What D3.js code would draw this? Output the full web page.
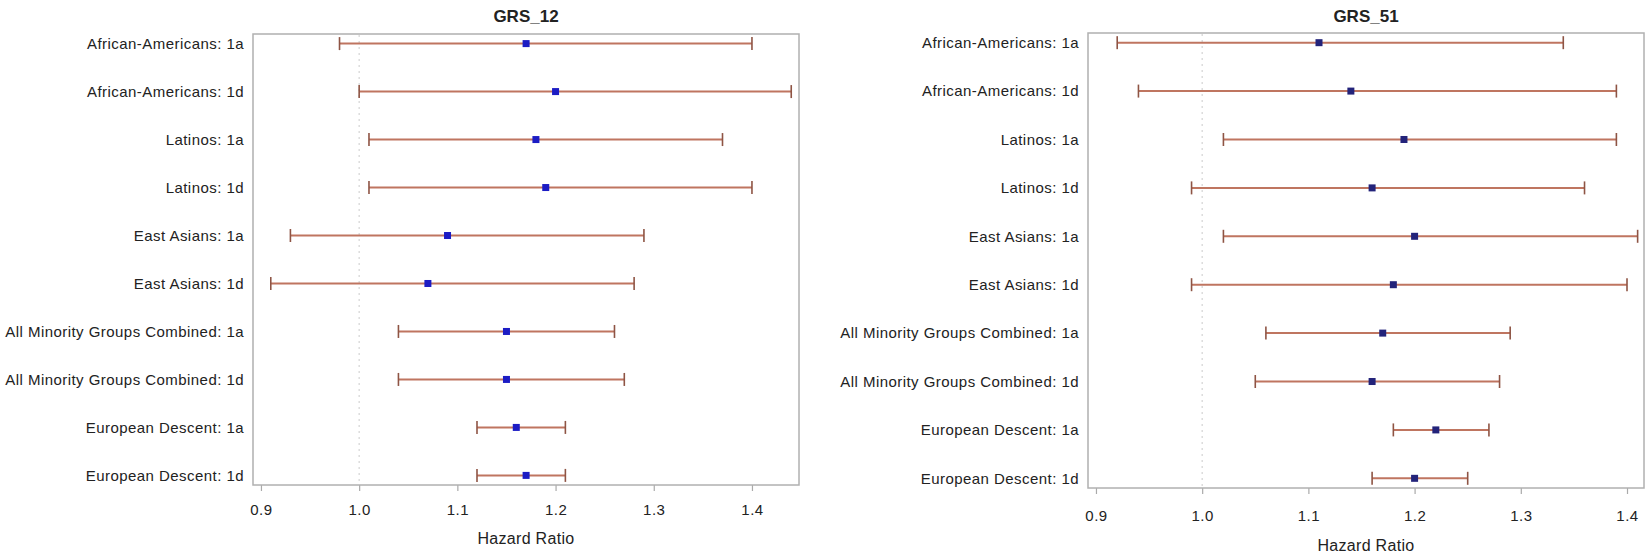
<!DOCTYPE html>
<html>
<head>
<meta charset="utf-8">
<script src="https://cdnjs.cloudflare.com/ajax/libs/d3/7.8.5/d3.min.js"></script>
<style>
  body { margin: 0; background: #fff; }
  text { font-family: "Liberation Sans", Arial, sans-serif; fill: #222; }
</style>
</head>
<body>
<div id="chart"></div>
<script>
// row labels (same for both panels)
var groups = [
  "African-Americans: 1a", "African-Americans: 1d",
  "Latinos: 1a", "Latinos: 1d",
  "East Asians: 1a", "East Asians: 1d",
  "All Minority Groups Combined: 1a", "All Minority Groups Combined: 1d",
  "European Descent: 1a", "European Descent: 1d"
];
var tickValues = [0.9, 1.0, 1.1, 1.2, 1.3, 1.4];

// GRS_12 hazard ratios and 95% CI
var grs12HR    = [1.17, 1.20, 1.18, 1.19, 1.09, 1.07, 1.15, 1.15, 1.16, 1.17];
var grs12Lower = [0.98, 1.00, 1.01, 1.01, 0.93, 0.91, 1.04, 1.04, 1.12, 1.12];
var grs12Upper = [1.40, 1.44, 1.37, 1.40, 1.29, 1.28, 1.26, 1.27, 1.21, 1.21];

// GRS_51 hazard ratios and 95% CI
var grs51HR    = [1.11, 1.14, 1.19, 1.16, 1.20, 1.18, 1.17, 1.16, 1.22, 1.20];
var grs51Lower = [0.92, 0.94, 1.02, 0.99, 1.02, 0.99, 1.06, 1.05, 1.18, 1.16];
var grs51Upper = [1.34, 1.39, 1.39, 1.36, 1.41, 1.40, 1.29, 1.28, 1.27, 1.25];

var svg = d3.select("#chart").append("svg")
  .attr("width", 1650)
  .attr("height", 554);

var panels = [
  { title: "GRS_12", hr: grs12HR, lo: grs12Lower, hi: grs12Upper,
    left: 253, right: 799, top: 34, bottom: 485, domain: [0.8919, 1.4479],
    marker: "#1c1cc4", tickY: 515, labelY: 544 },
  { title: "GRS_51", hr: grs51HR, lo: grs51Lower, hi: grs51Upper,
    left: 1088, right: 1644, top: 33, bottom: 488, domain: [0.8925, 1.416],
    marker: "#23237a", tickY: 521, labelY: 551 }
];

panels.forEach(function(p) {
  var x = d3.scaleLinear().domain(p.domain).range([p.left, p.right]);
  var y = d3.scalePoint().domain(groups).range([p.top, p.bottom]).padding(0.2);

  var g = svg.append("g");

  // title
  g.append("text")
    .attr("x", (p.left + p.right) / 2)
    .attr("y", 22)
    .attr("text-anchor", "middle")
    .style("font-size", "17px")
    .style("font-weight", "bold")
    .text(p.title);

  // reference line at 1.0
  g.append("line")
    .attr("x1", x(1)).attr("x2", x(1))
    .attr("y1", p.top + 1).attr("y2", p.bottom - 1)
    .attr("stroke", "#d4d4d4")
    .attr("stroke-width", 1.2)
    .attr("stroke-dasharray", "2,4");

  // x axis
  var axis = g.append("g")
    .attr("transform", "translate(0," + p.bottom + ")")
    .call(d3.axisBottom(x).tickValues(tickValues).tickFormat(d3.format(".1f"))
      .tickSize(6).tickSizeOuter(0));
  axis.select(".domain").remove();
  axis.selectAll(".tick line").attr("stroke", "#aaaaaa").attr("stroke-width", 1.2);
  axis.selectAll(".tick text")
    .attr("y", p.tickY - p.bottom)
    .attr("dy", 0)
    .style("font-size", "15px")
    .style("letter-spacing", "0.5px")
    .style("font-family", "'Liberation Sans', Arial, sans-serif")
    .attr("fill", "#222");

  g.append("text")
    .attr("x", (p.left + p.right) / 2)
    .attr("y", p.labelY)
    .attr("text-anchor", "middle")
    .style("font-size", "16px")
    .style("letter-spacing", "0.3px")
    .text("Hazard Ratio");

  // row labels
  var yAxis = g.append("g")
    .attr("transform", "translate(" + (p.left - 2) + ",0)")
    .call(d3.axisLeft(y).tickSize(0).tickPadding(7));
  yAxis.select(".domain").remove();
  yAxis.selectAll(".tick text")
    .style("font-size", "15px")
    .style("letter-spacing", "0.45px")
    .style("font-family", "'Liberation Sans', Arial, sans-serif")
    .attr("fill", "#222");

  var rows = groups.map(function(name, i) {
    return { name: name, hr: p.hr[i], lo: p.lo[i], hi: p.hi[i] };
  });

  // CI lines
  g.selectAll(".ci").data(rows).enter().append("line")
    .attr("class", "ci")
    .attr("x1", function(d) { return x(d.lo); })
    .attr("x2", function(d) { return x(d.hi); })
    .attr("y1", function(d) { return y(d.name); })
    .attr("y2", function(d) { return y(d.name); })
    .attr("stroke", "#bf7560")
    .attr("stroke-width", 2);

  // caps
  ["lo", "hi"].forEach(function(k) {
    g.selectAll(".cap-" + k).data(rows).enter().append("line")
      .attr("class", "cap-" + k)
      .attr("x1", function(d) { return x(d[k]); })
      .attr("x2", function(d) { return x(d[k]); })
      .attr("y1", function(d) { return y(d.name) - 6.5; })
      .attr("y2", function(d) { return y(d.name) + 6.5; })
      .attr("stroke", "#8e5444")
      .attr("stroke-width", 1.6);
  });

  // point estimates
  g.selectAll(".pt").data(rows).enter().append("rect")
    .attr("class", "pt")
    .attr("x", function(d) { return x(d.hr) - 3.5; })
    .attr("y", function(d) { return y(d.name) - 3.5; })
    .attr("width", 7)
    .attr("height", 7)
    .attr("fill", p.marker);

  // frame
  g.append("rect")
    .attr("x", p.left).attr("y", p.top)
    .attr("width", p.right - p.left).attr("height", p.bottom - p.top)
    .attr("fill", "none")
    .attr("stroke", "#b0b0b0")
    .attr("stroke-width", 1.5);
});
</script>
</body>
</html>
